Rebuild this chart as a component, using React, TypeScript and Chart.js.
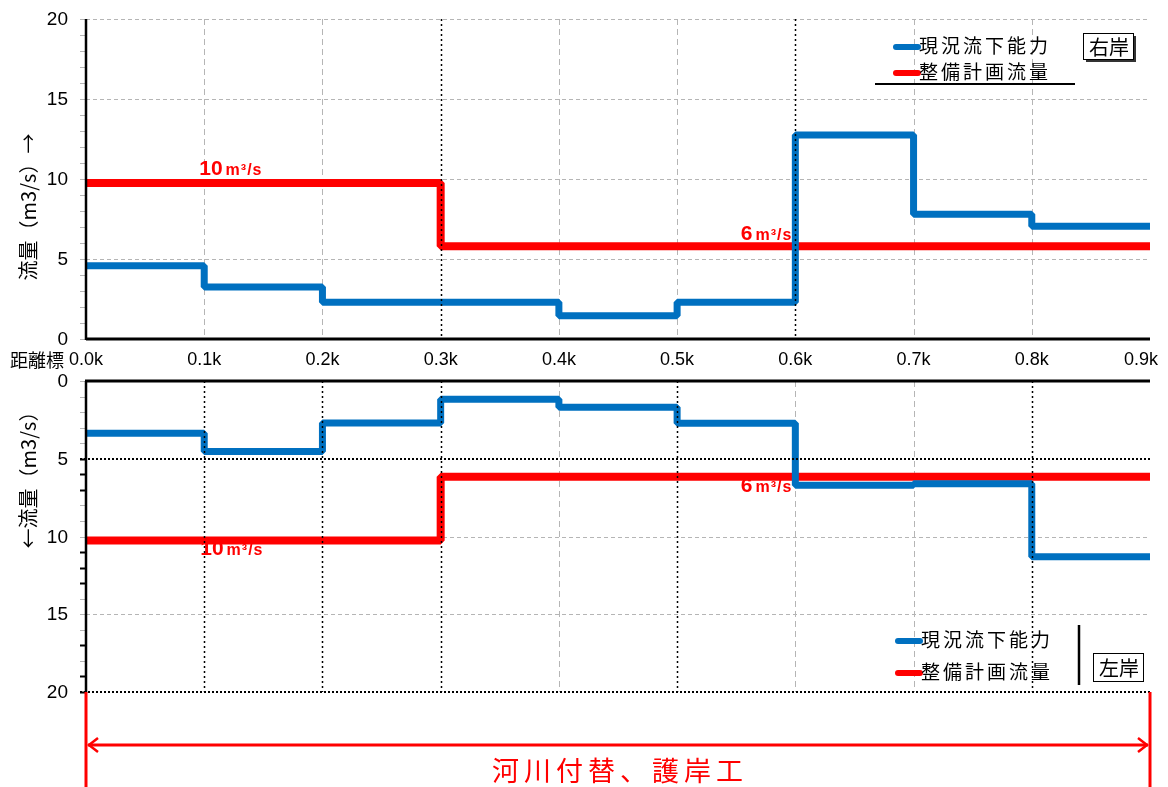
import React, { useEffect, useRef } from "react";
import { Chart, registerables } from "chart.js";

Chart.register(...registerables);

// ---------- data ----------
const distances = [0, 0.1, 0.2, 0.3, 0.4, 0.5, 0.6, 0.7, 0.8, 0.9];
const distanceLabels = ["0.0k", "0.1k", "0.2k", "0.3k", "0.4k", "0.5k", "0.6k", "0.7k", "0.8k", "0.9k"];
const yTickValues = [0, 5, 10, 15, 20];

// right bank (top chart), value per 0.1k section
const rightCapacity = [4.58, 3.25, 2.3, 2.3, 1.45, 2.3, 12.75, 7.8, 7.05];
const rightPlan = [9.75, 9.75, 9.75, 5.8, 5.8, 5.8, 5.8, 5.8, 5.8];
// left bank (bottom chart), value per 0.1k section
const leftCapacity = [3.36, 4.54, 2.7, 1.18, 1.69, 2.72, 6.7, 6.6, 11.3];
const leftPlan = [10.25, 10.25, 10.25, 6.15, 6.15, 6.15, 6.15, 6.15, 6.15];

const seriesNames = ["現況流下能力", "整備計画流量"];
const rightTitle = "流量（m3/s）→";
const leftTitle = "←流量（m3/s）";
const distanceTitle = "距離標";
const worksText = "河川付替、護岸工";

// flow annotations
const rightFlowLabels = [
  { at: 0.1, value: 9.75, big: "10", small: "m³/s" },
  { at: 0.6, value: 5.8, big: "6", small: "m³/s" },
];
const leftFlowLabels = [
  { at: 0.1, value: 10.25, big: "10", small: "m³/s" },
  { at: 0.6, value: 6.15, big: "6", small: "m³/s" },
];

// ---------- styles ----------
const BLUE = "#0070C0";
const RED = "#FF0000";
const GRAY = "#b5b5b5";
const FONT_NUM = '"Liberation Sans", Arial, "Noto Sans CJK JP", sans-serif';
const FONT_JP = '"Noto Sans CJK JP", "Liberation Sans", sans-serif';

const rightLabelStyle = [
  { dx: -5, dy: -8, align: "left" },
  { dx: -3, dy: -6, align: "right" },
];
const leftLabelStyle = [
  { dx: -4, dy: 14.5, align: "left" },
  { dx: -3, dy: 15, align: "right" },
];

function stepPoints(values: number[]) {
  const pts = values.map((v, i) => ({ x: distances[i], y: v }));
  pts.push({ x: distances[values.length], y: values[values.length - 1] });
  return pts;
}

function seg(ctx: CanvasRenderingContext2D, x1: number, y1: number, x2: number, y2: number) {
  ctx.beginPath();
  ctx.moveTo(x1, y1);
  ctx.lineTo(x2, y2);
  ctx.stroke();
}

function drawFlowLabel(ctx: CanvasRenderingContext2D, px: number, py: number, big: string, small: string, align: string) {
  ctx.save();
  ctx.fillStyle = RED;
  ctx.textBaseline = "alphabetic";
  ctx.textAlign = "left";
  const bigFont = `bold 21px ${FONT_NUM}`;
  const smallFont = `bold 16px ${FONT_NUM}`;
  ctx.font = bigFont;
  const wb = ctx.measureText(big).width;
  ctx.font = smallFont;
  (ctx as any).letterSpacing = "1px";
  const ws = ctx.measureText(small).width;
  const gap = 3;
  const total = wb + gap + ws;
  const x0 = align === "left" ? px : px - total;
  (ctx as any).letterSpacing = "0px";
  ctx.font = bigFont;
  ctx.fillText(big, x0, py);
  ctx.font = smallFont;
  (ctx as any).letterSpacing = "1px";
  ctx.fillText(small, x0 + wb + gap, py);
  ctx.restore();
}

function drawLegend(ctx: CanvasRenderingContext2D, x: number, y1: number, y2: number) {
  ctx.save();
  ctx.lineCap = "round";
  ctx.lineWidth = 6;
  ctx.strokeStyle = BLUE;
  seg(ctx, x, y1 + 1, x + 22, y1 + 1);
  ctx.strokeStyle = RED;
  seg(ctx, x, y2 + 1, x + 22, y2 + 1);
  ctx.fillStyle = "#000";
  ctx.font = `19px ${FONT_JP}`;
  (ctx as any).letterSpacing = "3px";
  ctx.textBaseline = "middle";
  ctx.textAlign = "left";
  ctx.fillText(seriesNames[0], x + 23, y1);
  ctx.fillText(seriesNames[1], x + 23, y2);
  ctx.restore();
}

function drawBox(ctx: CanvasRenderingContext2D, text: string, x: number, y: number, w: number, h: number, shadow: boolean) {
  ctx.save();
  if (shadow) {
    ctx.fillStyle = "#333";
    ctx.fillRect(x + 3, y + 3, w, h);
  }
  ctx.fillStyle = "#fff";
  ctx.fillRect(x, y, w, h);
  ctx.strokeStyle = "#000";
  ctx.lineWidth = 1;
  ctx.strokeRect(x + 0.5, y + 0.5, w, h);
  ctx.fillStyle = "#000";
  ctx.font = `20px ${FONT_JP}`;
  ctx.textAlign = "center";
  ctx.textBaseline = "middle";
  ctx.fillText(text, x + w / 2 + 1, y + h / 2 + 1);
  ctx.restore();
}

function drawYTitle(ctx: CanvasRenderingContext2D, text: string, cx: number, cy: number) {
  ctx.save();
  ctx.translate(cx, cy);
  ctx.rotate(-Math.PI / 2);
  ctx.fillStyle = "#000";
  ctx.font = `20px ${FONT_JP}`;
  ctx.textAlign = "center";
  ctx.textBaseline = "middle";
  ctx.fillText(text, 0, 0);
  ctx.restore();
}

type Side = {
  id: string;
  grayH: number[];
  darkH: number[];
  grayV: number[];
  darkV: number[];
  darkTicks: number[];
  labels: typeof rightFlowLabels;
  labelStyle: typeof rightLabelStyle;
  top: boolean;
};

function makeDecor(side: Side) {
  return {
    id: side.id,
    beforeDatasetsDraw(chart: any) {
      const { ctx, chartArea: a, scales } = chart;
      const x = scales.x;
      const y = scales.y;
      ctx.save();
      ctx.strokeStyle = GRAY;
      ctx.lineWidth = 1;
      ctx.setLineDash([4, 3]);
      for (const v of side.grayH) {
        const py = Math.round(y.getPixelForValue(v)) + 0.5;
        seg(ctx, a.left, py, a.right, py);
      }
      ctx.setLineDash([6, 4]);
      for (const d of side.grayV) {
        const px = Math.round(x.getPixelForValue(d)) + 0.5;
        seg(ctx, px, a.top, px, a.bottom);
      }
      ctx.setLineDash([]);
      for (let v = 0; v <= 20; v += 1) {
        const py = Math.round(y.getPixelForValue(v)) + 0.5;
        ctx.strokeStyle = side.darkTicks.includes(v) ? "#000" : GRAY;
        ctx.lineWidth = side.darkTicks.includes(v) ? 2 : 1;
        seg(ctx, a.left - 6, py, a.left, py);
      }
      side.labels.forEach((l, i) => {
        const st = side.labelStyle[i];
        const px = x.getPixelForValue(l.at) + st.dx;
        const py = y.getPixelForValue(l.value) + st.dy;
        drawFlowLabel(ctx, px, py, l.big, l.small, st.align);
      });
      ctx.restore();
    },
    afterDatasetsDraw(chart: any) {
      const { ctx, chartArea: a, scales } = chart;
      const x = scales.x;
      const y = scales.y;
      ctx.save();
      ctx.strokeStyle = "#000";
      ctx.lineWidth = 2;
      ctx.setLineDash([2, 2]);
      for (const v of side.darkH) {
        const py = Math.round(y.getPixelForValue(v));
        seg(ctx, a.left - 6, py, a.right, py);
      }
      ctx.lineWidth = 1.5;
      ctx.setLineDash([2, 3]);
      for (const d of side.darkV) {
        const px = Math.round(x.getPixelForValue(d)) + 0.5;
        seg(ctx, px, a.top, px, a.bottom);
      }
      ctx.setLineDash([]);
      ctx.lineWidth = 2.5;
      seg(ctx, a.left, a.top, a.left, a.bottom + 1);
      ctx.lineWidth = 3;
      if (side.top) {
        seg(ctx, a.left, a.bottom, a.right, a.bottom);
      } else {
        seg(ctx, a.left - 1, a.top, a.right, a.top);
      }
      // y tick labels
      ctx.fillStyle = "#000";
      ctx.font = `19px ${FONT_NUM}`;
      ctx.textAlign = "right";
      ctx.textBaseline = "middle";
      for (const v of yTickValues) {
        ctx.fillText(String(v), a.left - 18, y.getPixelForValue(v) + 1);
      }
      // x tick labels (top chart only)
      if (side.top) {
        ctx.font = `18px ${FONT_NUM}`;
        ctx.textAlign = "center";
        distances.forEach((d, i) => {
          const w = ctx.measureText(distanceLabels[i]).width;
          let cx = x.getPixelForValue(d);
          if (cx + w / 2 > chart.width - 10) cx = chart.width - 10 - w / 2;
          ctx.fillText(distanceLabels[i], cx, a.bottom + 21);
        });
      }
      ctx.restore();
    },
    afterDraw(chart: any) {
      const { ctx, scales } = chart;
      const x = scales.x;
      const y = scales.y;
      ctx.save();
      if (side.top) {
        drawYTitle(ctx, rightTitle, 28, 207);
        ctx.fillStyle = "#000";
        ctx.font = `18px ${FONT_JP}`;
        ctx.textAlign = "left";
        ctx.textBaseline = "middle";
        ctx.fillText(distanceTitle, 10, 360);
        drawLegend(ctx, 896, 46, 72);
        ctx.strokeStyle = "#000";
        ctx.lineWidth = 2;
        seg(ctx, 875, 84, 1075, 84);
        drawBox(ctx, "右岸", 1083, 33, 50, 26, true);
      } else {
        const off = chart.canvas.offsetTop || 0;
        drawYTitle(ctx, leftTitle, 28, 475 - off);
        drawLegend(ctx, 898, 640 - off, 672 - off);
        ctx.strokeStyle = "#000";
        ctx.lineWidth = 2.5;
        seg(ctx, 1079, 625 - off, 1079, 685 - off);
        drawBox(ctx, "左岸", 1093, 653 - off, 50, 28, false);
        const xl = x.getPixelForValue(distances[0]);
        const xr = x.getPixelForValue(distances[distances.length - 1]);
        const yb = y.getPixelForValue(20);
        const ya = 745 - off;
        ctx.strokeStyle = RED;
        ctx.lineWidth = 3;
        seg(ctx, xl, yb, xl, chart.height);
        seg(ctx, xr, yb, xr, chart.height);
        seg(ctx, xl + 2, ya, xr - 2, ya);
        ctx.lineWidth = 2.5;
        ctx.beginPath();
        ctx.moveTo(xl + 12, ya - 7);
        ctx.lineTo(xl + 3, ya);
        ctx.lineTo(xl + 12, ya + 7);
        ctx.moveTo(xr - 12, ya - 7);
        ctx.lineTo(xr - 3, ya);
        ctx.lineTo(xr - 12, ya + 7);
        ctx.stroke();
        ctx.fillStyle = RED;
        ctx.font = `27px ${FONT_JP}`;
        (ctx as any).letterSpacing = "5px";
        ctx.textAlign = "center";
        ctx.textBaseline = "middle";
        ctx.fillText(worksText, (xl + xr) / 2 + 2, 771 - off);
      }
      ctx.restore();
    },
  };
}

function buildConfig(capacity: number[], plan: number[], side: Side, reverse: boolean, padding: any): any {
  return {
    type: "line",
    data: {
      datasets: [
        {
          label: seriesNames[0],
          data: stepPoints(capacity),
          borderColor: BLUE,
          backgroundColor: BLUE,
          borderWidth: 7,
          stepped: "before",
          pointRadius: 0,
          borderJoinStyle: "bevel",
          fill: false,
        },
        {
          label: seriesNames[1],
          data: stepPoints(plan),
          borderColor: RED,
          backgroundColor: RED,
          borderWidth: 8,
          stepped: "before",
          pointRadius: 0,
          borderJoinStyle: "bevel",
          fill: false,
        },
      ],
    },
    options: {
      responsive: false,
      animation: false,
      devicePixelRatio: 1,
      layout: { padding },
      plugins: { legend: { display: false }, tooltip: { enabled: false } },
      scales: {
        x: {
          type: "linear",
          display: false,
          min: distances[0],
          max: distances[distances.length - 1],
        },
        y: {
          type: "linear",
          display: false,
          reverse,
          min: 0,
          max: 20,
        },
      },
    },
    plugins: [makeDecor(side)],
  };
}

export default function App() {
  const topRef = useRef<HTMLCanvasElement>(null);
  const botRef = useRef<HTMLCanvasElement>(null);

  useEffect(() => {
    document.body.style.margin = "0";
    const top = new Chart(
      topRef.current as HTMLCanvasElement,
      buildConfig(
        rightCapacity,
        rightPlan,
        {
          id: "decorTop",
          grayH: [5, 10, 15, 20],
          darkH: [],
          grayV: [0.1, 0.2, 0.4, 0.5, 0.7, 0.8],
          darkV: [0.3, 0.6],
          darkTicks: [],
          labels: rightFlowLabels,
          labelStyle: rightLabelStyle,
          top: true,
        },
        false,
        { left: 86, right: 18, top: 19, bottom: 41 }
      )
    );
    const bottom = new Chart(
      botRef.current as HTMLCanvasElement,
      buildConfig(
        leftCapacity,
        leftPlan,
        {
          id: "decorBottom",
          grayH: [10, 15],
          darkH: [5, 20],
          grayV: [0.4, 0.6, 0.7],
          darkV: [0.1, 0.2, 0.3, 0.5, 0.8],
          darkTicks: [5, 6, 7, 11, 12, 13, 17, 19, 20],
          labels: leftFlowLabels,
          labelStyle: leftLabelStyle,
          top: false,
        },
        true,
        { left: 86, right: 18, top: 19, bottom: 95 }
      )
    );
    return () => {
      top.destroy();
      bottom.destroy();
    };
  }, []);

  return (
    <div style={{ position: "relative", width: 1168, height: 787, background: "#fff", overflow: "hidden" }}>
      <canvas ref={topRef} width={1168} height={380} style={{ position: "absolute", left: 0, top: 0 }} />
      <canvas ref={botRef} width={1168} height={425} style={{ position: "absolute", left: 0, top: 362 }} />
    </div>
  );
}
